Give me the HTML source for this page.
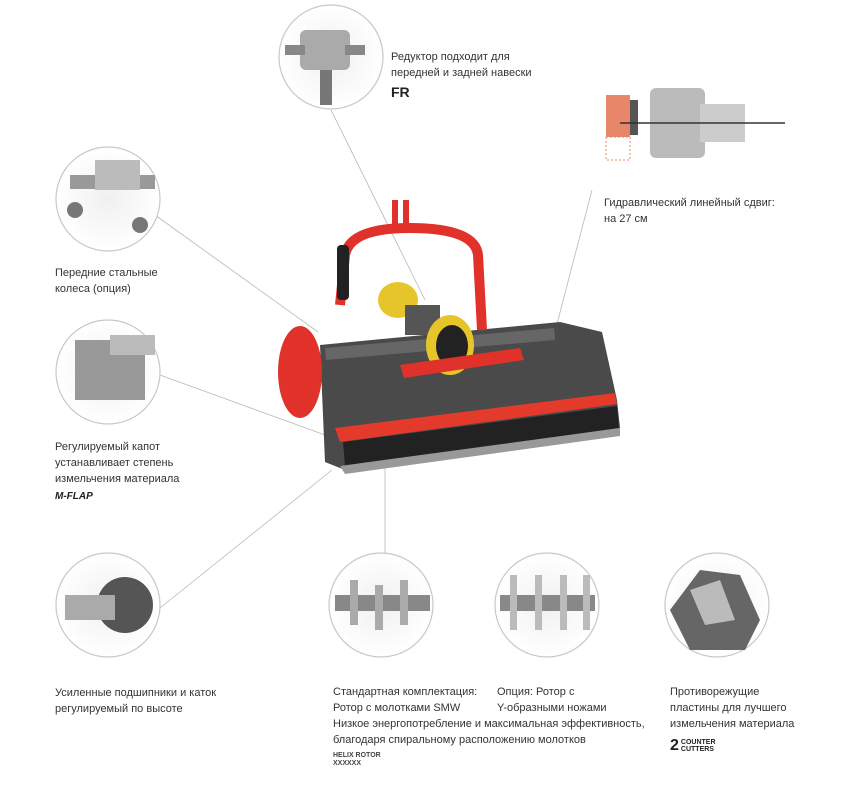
<!DOCTYPE html>
<html><head><meta charset="utf-8"><style>
body{margin:0;width:851px;height:800px;background:#fff;overflow:hidden;position:relative;font-family:"Liberation Sans","DejaVu Sans",sans-serif;}
.t{position:absolute;font-size:11px;line-height:16px;color:#333;white-space:nowrap;}
svg{position:absolute;left:0;top:0}
</style></head><body>
<svg width="851" height="800">
<defs>
<radialGradient id="cg" cx="50%" cy="50%" r="50%"><stop offset="0" stop-color="#f0f0f0"/><stop offset="1" stop-color="#fff"/></radialGradient>
</defs>
<g stroke="#b8b8b8" stroke-width="0.8" fill="none">
<line x1="331" y1="110" x2="425" y2="300"/>
<line x1="155" y1="215" x2="318" y2="332"/>
<line x1="160" y1="375" x2="325" y2="435"/>
<line x1="160" y1="608" x2="332" y2="470"/>
<line x1="385" y1="555" x2="385" y2="400"/>
<line x1="592" y1="190" x2="546" y2="366"/>
</g>
<g stroke="#c8c8c8" stroke-width="1.2" fill="url(#cg)">
<circle cx="331" cy="57" r="52"/>
<circle cx="108" cy="199" r="52"/>
<circle cx="108" cy="372" r="52"/>
<circle cx="108" cy="605" r="52"/>
<circle cx="381" cy="605" r="52"/>
<circle cx="547" cy="605" r="52"/>
<circle cx="717" cy="605" r="52"/>
</g>
<g fill="#999">
<rect x="300" y="30" width="50" height="40" rx="6" fill="#aaa"/><rect x="285" y="45" width="20" height="10" fill="#888"/><rect x="345" y="45" width="20" height="10" fill="#888"/><rect x="320" y="70" width="12" height="35" fill="#777"/>
<rect x="70" y="175" width="85" height="14" fill="#999"/><circle cx="75" cy="210" r="8" fill="#777"/><circle cx="140" cy="225" r="8" fill="#777"/><rect x="95" y="160" width="45" height="30" fill="#bbb"/>
<rect x="75" y="340" width="70" height="60" fill="#999"/><rect x="110" y="335" width="45" height="20" fill="#bbb"/>
<circle cx="125" cy="605" r="28" fill="#555"/><rect x="65" y="595" width="50" height="25" fill="#aaa"/>
<rect x="335" y="595" width="95" height="16" fill="#888"/><g fill="#aaa"><rect x="350" y="580" width="8" height="45"/><rect x="375" y="585" width="8" height="45"/><rect x="400" y="580" width="8" height="45"/></g>
<rect x="500" y="595" width="95" height="16" fill="#888"/><g fill="#bbb"><rect x="510" y="575" width="7" height="55"/><rect x="535" y="575" width="7" height="55"/><rect x="560" y="575" width="7" height="55"/><rect x="583" y="575" width="7" height="55"/></g>
<polygon points="670,610 700,570 740,575 760,620 745,650 690,650" fill="#666"/><polygon points="690,590 720,580 735,620 705,625" fill="#bbb"/>
</g>
<rect x="606" y="95" width="24" height="42" fill="#e8866a"/><rect x="606" y="137" width="24" height="23" fill="none" stroke="#e8866a" stroke-dasharray="2,2"/>
<rect x="630" y="100" width="8" height="35" fill="#555"/>
<rect x="650" y="88" width="55" height="70" rx="6" fill="#bbb"/><rect x="700" y="104" width="45" height="38" fill="#ccc"/>
<line x1="620" y1="123" x2="785" y2="123" stroke="#333" stroke-width="1.5"/>
<polygon points="320,345 560,322 602,332 617,400 620,428 345,470 325,462" fill="#4a4a4a"/>
<polygon points="335,428 615,393 617,404 340,442" fill="#e33a2c"/>
<polygon points="343,442 617,406 619,428 345,466" fill="#222"/>
<polygon points="340,466 620,428 620,436 345,474" fill="#999"/>
<ellipse cx="300" cy="372" rx="22" ry="46" fill="#e0312a"/>
<path d="M340,305 L345,255 Q350,228 410,228 Q475,228 478,255 L482,330" stroke="#e0312a" stroke-width="10" fill="none"/>
<rect x="392" y="200" width="6" height="30" fill="#e0312a"/><rect x="403" y="200" width="6" height="30" fill="#e0312a"/>
<rect x="337" y="245" width="12" height="55" rx="4" fill="#222"/>
<rect x="325" y="338" width="230" height="12" fill="#666" transform="rotate(-5 440 344)"/>
<ellipse cx="398" cy="300" rx="20" ry="18" fill="#e6c52a"/><rect x="405" y="305" width="35" height="30" fill="#555"/>
<ellipse cx="450" cy="345" rx="24" ry="30" fill="#e6c52a"/><ellipse cx="452" cy="346" rx="16" ry="21" fill="#222"/>
<polygon points="400,365 520,348 524,360 404,378" fill="#e0312a"/>
</svg>
<div class="t" style="left:391px;top:49px">Редуктор подходит для<br>передней и задней навески</div>
<div class="t" style="left:391px;top:84px;font-weight:bold;font-size:14px;color:#222">FR</div>
<div class="t" style="left:604px;top:195px">Гидравлический линейный сдвиг:<br>на 27 см</div>
<div class="t" style="left:55px;top:265px">Передние стальные<br>колеса (опция)</div>
<div class="t" style="left:55px;top:439px">Регулируемый капот<br>устанавливает степень<br>измельчения материала</div>
<div class="t" style="left:55px;top:489px;font-weight:bold;font-style:italic;font-size:10px;color:#222">M-FLAP</div>
<div class="t" style="left:55px;top:685px">Усиленные подшипники и каток<br>регулируемый по высоте</div>
<div class="t" style="left:333px;top:684px">Стандартная комплектация:<br>Ротор с молотками SMW<br>Низкое энергопотребление и максимальная эффективность,<br>благодаря спиральному расположению молотков</div>
<div class="t" style="left:333px;top:752px;font-size:7px;line-height:8px;font-weight:bold;color:#444">HELIX ROTOR<br>XXXXXX</div>
<div class="t" style="left:497px;top:684px">Опция: Ротор с<br>Y-образными ножами</div>
<div class="t" style="left:670px;top:684px">Противорежущие<br>пластины для лучшего<br>измельчения материала</div>
<div class="t" style="left:670px;top:738px;font-weight:bold;font-size:16px;color:#222">2<span style="font-size:7px;line-height:7px;display:inline-block;vertical-align:middle;margin-left:2px">COUNTER<br>CUTTERS</span></div>
</body></html>
